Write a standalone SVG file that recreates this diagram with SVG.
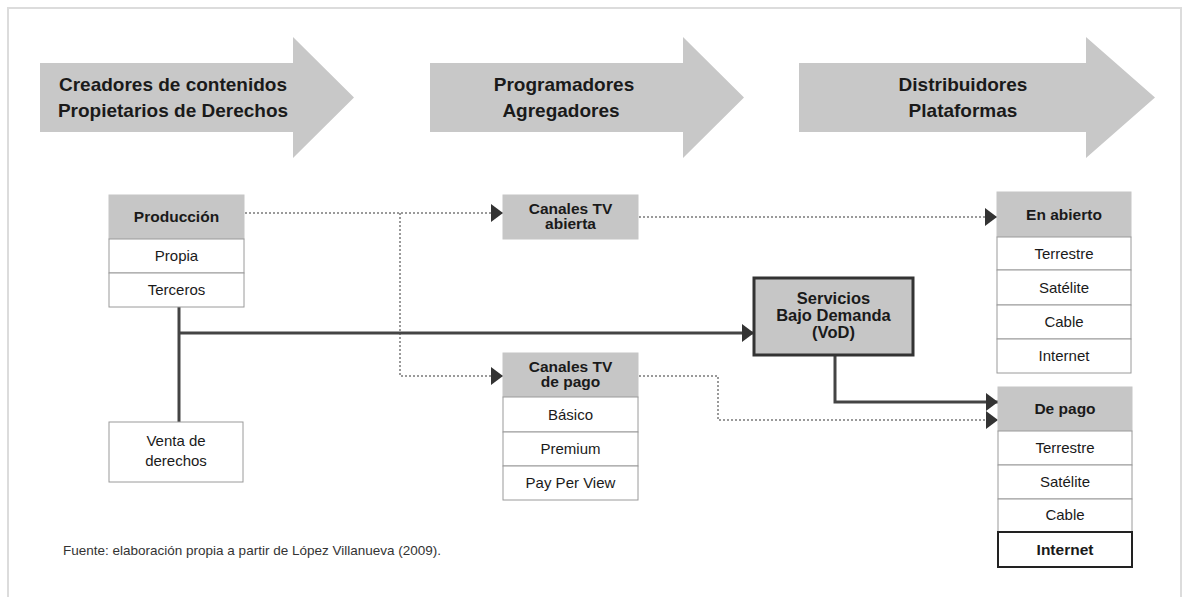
<svg xmlns="http://www.w3.org/2000/svg" width="1186" height="597" viewBox="0 0 1186 597">
<style>
.bg{fill:#ffffff}
.frame{fill:none;stroke:#dcdcdc;stroke-width:2}
.band{fill:#c8c8c8}
.hdr{fill:#c6c6c6;stroke:#c6c6c6;stroke-width:1}
.row{fill:#ffffff;stroke:#9a9a9a;stroke-width:1}
.strong{fill:#ffffff;stroke:#222;stroke-width:2}
.vod{fill:#c6c6c6;stroke:#333;stroke-width:3}
.t{font-family:"Liberation Sans",Arial,sans-serif;fill:#1a1a1a;text-anchor:middle}
.big{font-size:19px;font-weight:bold}
.vt{font-size:16.5px;font-weight:bold}
.hb{font-size:15.5px;font-weight:bold}
.r{font-size:15px}
.foot{font-family:"Liberation Sans",Arial,sans-serif;font-size:13.5px;fill:#333}
.dot{fill:none;stroke:#9a9a9a;stroke-width:2;stroke-dasharray:2 2}
.solid{fill:none;stroke:#444;stroke-width:3}
</style>
<defs>
<marker id="ah" markerUnits="userSpaceOnUse" markerWidth="14" markerHeight="20" refX="12" refY="9" orient="auto" viewBox="0 0 14 20">
<path d="M0,0 L12,9 L0,18 Z" fill="#333"/>
</marker>
</defs>
<rect class="bg" x="0" y="0" width="1186" height="597"/>
<rect class="frame" x="8" y="8" width="1173" height="620"/>

<g id="band-creadores">
<polygon class="band" points="40,63 293,63 293,37 354,97.5 293,158 293,132 40,132"/>
<text class="t big" x="173" y="91">Creadores de contenidos</text>
<text class="t big" x="173" y="117">Propietarios de Derechos</text>
</g>
<g id="band-programadores">
<polygon class="band" points="430,63 683,63 683,37 744,97.5 683,158 683,132 430,132"/>
<text class="t big" x="564" y="91">Programadores</text>
<text class="t big" x="561" y="117">Agregadores</text>
</g>
<g id="band-distribuidores">
<polygon class="band" points="799,63 1086,63 1086,37 1155,97.5 1086,158 1086,132 799,132"/>
<text class="t big" x="963" y="91">Distribuidores</text>
<text class="t big" x="963" y="117">Plataformas</text>
</g>

<g id="connectors">
<path class="dot" d="M245,213 H503" marker-end="url(#ah)"/>
<path class="dot" d="M400,213 V376 H503" marker-end="url(#ah)"/>
<path class="dot" d="M639,217 H997" marker-end="url(#ah)"/>
<path class="dot" d="M639,376 H718 V420 H998" marker-end="url(#ah)"/>
<path class="solid" d="M179,307 V422"/>
<path class="solid" d="M179,333 H754" marker-end="url(#ah)"/>
<path class="solid" d="M835,356 V402 H998" marker-end="url(#ah)"/>
</g>

<g id="node-produccion">
<rect class="hdr" x="109" y="195" width="135" height="44"/>
<rect class="row" x="109" y="239" width="135" height="34"/>
<rect class="row" x="109" y="273" width="135" height="34"/>
<text class="t hb" x="176.5" y="222">Producción</text>
<text class="t r" x="176.5" y="261">Propia</text>
<text class="t r" x="176.5" y="295">Terceros</text>
</g>

<g id="node-venta">
<rect class="row" x="109" y="422" width="134" height="60"/>
<text class="t r" x="176" y="446">Venta de</text>
<text class="t r" x="176" y="466">derechos</text>
</g>

<g id="node-canales-abierta">
<rect class="hdr" x="503" y="195" width="135" height="44"/>
<text class="t hb" x="570.5" y="214">Canales TV</text>
<text class="t hb" x="570.5" y="229">abierta</text>
</g>

<g id="node-canales-pago">
<rect class="hdr" x="503" y="353" width="135" height="44"/>
<rect class="row" x="503" y="397" width="135" height="35"/>
<rect class="row" x="503" y="432" width="135" height="34"/>
<rect class="row" x="503" y="466" width="135" height="34"/>
<text class="t hb" x="570.5" y="372">Canales TV</text>
<text class="t hb" x="570.5" y="387">de pago</text>
<text class="t r" x="570.5" y="420">Básico</text>
<text class="t r" x="570.5" y="454">Premium</text>
<text class="t r" x="570.5" y="488">Pay Per View</text>
</g>

<g id="node-vod">
<rect class="vod" x="754" y="278" width="159" height="77"/>
<text class="t vt" x="833.5" y="304">Servicios</text>
<text class="t vt" x="833.5" y="321">Bajo Demanda</text>
<text class="t vt" x="833.5" y="338">(VoD)</text>
</g>

<g id="node-en-abierto">
<rect class="hdr" x="997" y="192" width="134" height="45"/>
<rect class="row" x="997" y="237" width="134" height="33"/>
<rect class="row" x="997" y="270" width="134" height="35"/>
<rect class="row" x="997" y="305" width="134" height="34"/>
<rect class="row" x="997" y="339" width="134" height="34"/>
<text class="t hb" x="1064" y="220">En abierto</text>
<text class="t r" x="1064" y="259">Terrestre</text>
<text class="t r" x="1064" y="293">Satélite</text>
<text class="t r" x="1064" y="327">Cable</text>
<text class="t r" x="1064" y="361">Internet</text>
</g>

<g id="node-de-pago">
<rect class="hdr" x="998" y="387" width="134" height="44"/>
<rect class="row" x="998" y="431" width="134" height="34"/>
<rect class="row" x="998" y="465" width="134" height="34"/>
<rect class="row" x="998" y="499" width="134" height="33"/>
<rect class="strong" x="998" y="532" width="134" height="35"/>
<text class="t hb" x="1065" y="414">De pago</text>
<text class="t r" x="1065" y="453">Terrestre</text>
<text class="t r" x="1065" y="487">Satélite</text>
<text class="t r" x="1065" y="520">Cable</text>
<text class="t hb" x="1065" y="555">Internet</text>
</g>

<text class="foot" x="63" y="555">Fuente: elaboración propia a partir de López Villanueva (2009).</text>
</svg>
